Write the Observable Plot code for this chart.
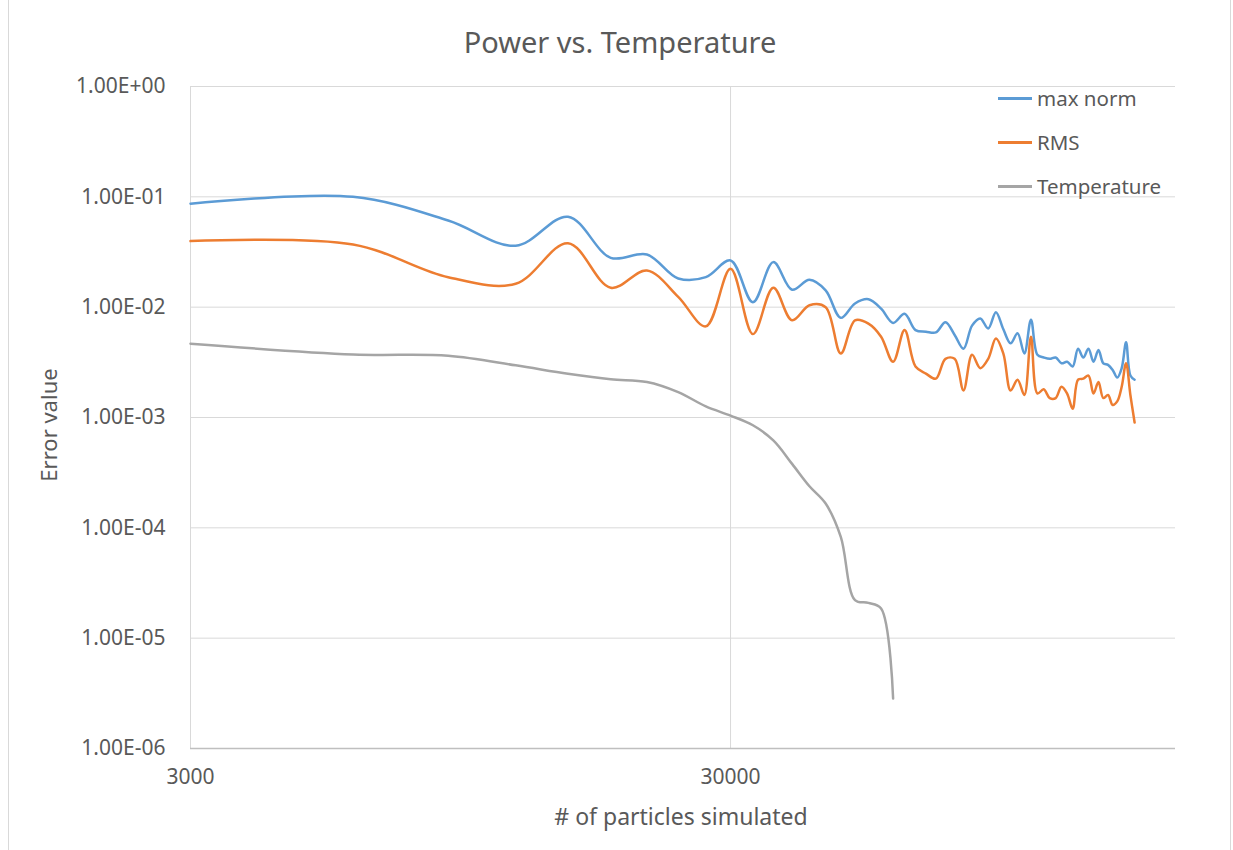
<!DOCTYPE html>
<html>
<head>
<meta charset="utf-8">
<script src="https://cdn.jsdelivr.net/npm/d3@7"></script>
<script src="https://cdn.jsdelivr.net/npm/@observablehq/plot@0.6"></script>
<style>
  html, body { margin: 0; padding: 0; background: #fff; }
  #wrap { position: relative; width: 1233px; height: 850px; overflow: hidden; font-family: "Noto Sans", sans-serif; color: #595959; }
  #frame { position: absolute; left: 8px; top: -2px; width: 1221px; height: 860px; border-left: 1px solid #d9d9d9; border-right: 1px solid #d9d9d9; }
  #title { position: absolute; left: 0; width: 1240px; top: 22px; line-height: 40px; text-align: center; font-size: 29px; }
  #chart { position: absolute; left: 0; top: 70px; }
  #ylab { position: absolute; left: 48px; top: 425px; transform: translate(-50%, -50%) rotate(-90deg); font-size: 22px; white-space: nowrap; }
  #xlab { position: absolute; left: 681px; top: 816px; transform: translate(-50%, -50%); font-size: 23px; white-space: nowrap; }
  #legend { position: absolute; left: 998px; top: 76px; }
  .item { height: 44px; display: flex; align-items: center; font-size: 20.5px; }
  .sw { width: 34px; height: 3px; margin-right: 5px; }
</style>
</head>
<body>
<div id="wrap">
  <div id="frame"></div>
  <div id="title">Power vs. Temperature</div>
  <div id="chart"></div>
  <div id="ylab">Error value</div>
  <div id="xlab"># of particles simulated</div>
  <div id="legend"></div>
</div>
<script>
const particles = [3000, 6000, 9000, 12000, 15000, 18000, 21000, 24000, 27000, 30000,
  33000, 36000, 39000, 42000, 45000, 48000, 51000, 54000, 57000, 60000,
  63000, 66000, 69000, 72000, 75000, 78000, 81000, 84000, 87000, 90000,
  93000, 96000, 99000, 102000, 105000, 108000, 111000, 114000, 117000, 120000,
  123000, 126000, 129000, 132000, 135000, 138000, 141000, 144000, 147000, 150000,
  153000, 156000, 159000, 162000, 165000, 168000];

const maxNorm = [0.0866, 0.100, 0.061, 0.036, 0.066, 0.028, 0.030, 0.0182, 0.0187, 0.0265,
  0.0111, 0.0256, 0.0144, 0.0177, 0.0142, 0.0080, 0.0108, 0.0118, 0.0097, 0.0072,
  0.0087, 0.0062, 0.0060, 0.0059, 0.0073, 0.0056, 0.0042, 0.0068, 0.0079, 0.0064,
  0.0090, 0.0063, 0.0047, 0.0058, 0.0038, 0.0077, 0.0037, 0.0035, 0.0034, 0.0035,
  0.0031, 0.0032, 0.0029, 0.0042, 0.0035, 0.0042, 0.0032, 0.0041, 0.0031, 0.0030,
  0.0027, 0.0023, 0.0028, 0.0048, 0.0024, 0.0022];

const rms = [0.0397, 0.037, 0.0187, 0.0163, 0.038, 0.0150, 0.0215, 0.0124, 0.0067, 0.0223,
  0.0057, 0.0150, 0.0076, 0.0104, 0.0100, 0.0038, 0.0076, 0.0071, 0.0054, 0.0032,
  0.0062, 0.0029, 0.0025, 0.00225, 0.0034, 0.0034, 0.00176, 0.0037, 0.0028, 0.0034,
  0.0052, 0.0038, 0.00176, 0.0022, 0.0016, 0.0054, 0.00165, 0.0018, 0.0015, 0.0015,
  0.0019, 0.00165, 0.0012, 0.0022, 0.00225, 0.0024, 0.00165, 0.0021, 0.0015, 0.0016,
  0.0013, 0.0014, 0.0019, 0.0031, 0.0016, 0.0009];

const temperature = [0.00467, 0.00373, 0.00363, 0.00297, 0.00249, 0.00222, 0.0021, 0.0017, 0.00126, 0.00104,
  0.00085, 0.00062, 0.00038, 0.000238, 0.000166, 0.0000828, 0.0000221, 0.0000209, 0.0000186, 0.00000284];

const seriesNames = ["max norm", "RMS", "Temperature"];
const seriesColors = ["#5B9BD5", "#ED7D31", "#A5A5A5"];
const xTicks = [3000, 30000];
const yTicks = [1, 1e-1, 1e-2, 1e-3, 1e-4, 1e-5, 1e-6];

const rows = [];
[maxNorm, rms, temperature].forEach((arr, si) => {
  arr.forEach((v, i) => rows.push({n: particles[i], v, s: seriesNames[si]}));
});

function fmtExp(d) {
  const e = Math.round(Math.log10(d));
  const sign = e < 0 ? "-" : "+";
  const a = Math.abs(e);
  return "1.00E" + sign + (a < 10 ? "0" : "") + a;
}

const chart = Plot.plot({
  width: 1233,
  height: 780,
  marginLeft: 190,
  marginRight: 58,
  marginTop: 16,
  marginBottom: 102,
  x: {type: "log", domain: [3000, 200000]},
  y: {type: "log", domain: [1e-6, 1]},
  color: {domain: seriesNames, range: seriesColors},
  style: {fontFamily: "Noto Sans", fontSize: "21px", color: "#595959", background: "transparent", overflow: "visible"},
  marks: [
    Plot.gridY(yTicks, {stroke: "#d9d9d9", strokeOpacity: 1, strokeWidth: 1}),
    Plot.gridX(xTicks, {stroke: "#d9d9d9", strokeOpacity: 1, strokeWidth: 1}),
    Plot.ruleY([1e-6], {stroke: "#bfbfbf", strokeWidth: 1.5}),
    Plot.axisY(yTicks, {tickSize: 0, tickPadding: 25, tickFormat: fmtExp, label: null, fill: "#595959"}),
    Plot.axisX(xTicks, {tickSize: 0, tickPadding: 21, tickFormat: d => String(d), label: null, fill: "#595959"}),
    Plot.line(rows, {x: "n", y: "v", z: "s", stroke: "s", strokeWidth: 2.5, curve: "catmull-rom"})
  ]
});
document.getElementById("chart").appendChild(chart);

const legend = document.getElementById("legend");
seriesNames.forEach((name, i) => {
  const item = document.createElement("div");
  item.className = "item";
  const sw = document.createElement("div");
  sw.className = "sw";
  sw.style.background = seriesColors[i];
  const t = document.createElement("span");
  t.textContent = name;
  item.appendChild(sw);
  item.appendChild(t);
  legend.appendChild(item);
});
</script>
</body>
</html>
